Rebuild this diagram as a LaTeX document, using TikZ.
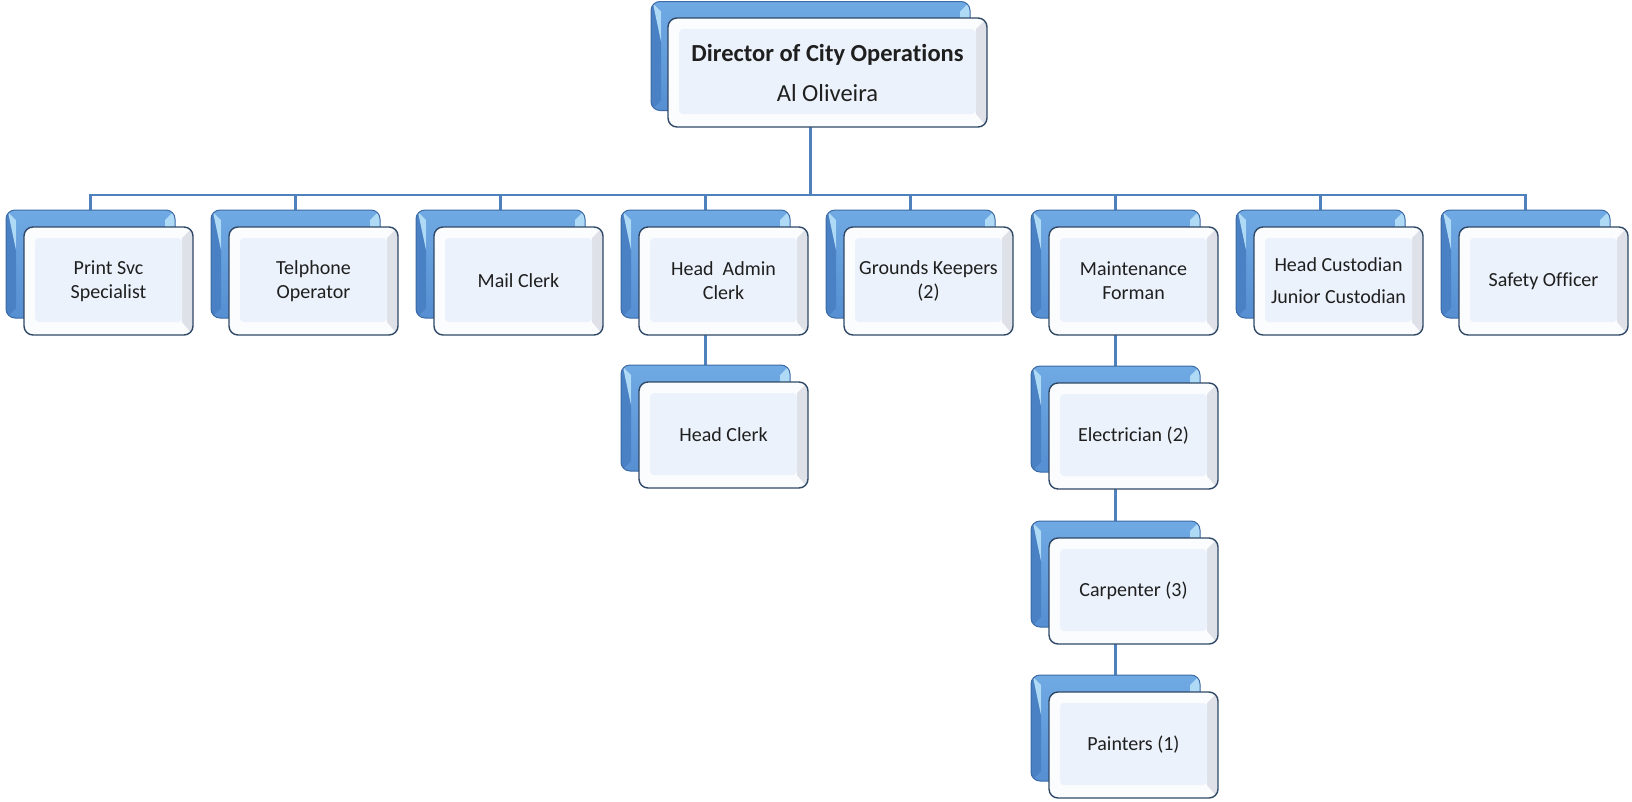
\documentclass[tikz,border=0pt]{standalone}
\usepackage{fontspec}
\setmainfont[Ligatures={NoCommon,NoRequired,NoContextual,NoDiscretionary}]{Carlito}
\usetikzlibrary{calc}

\definecolor{linkblue}{RGB}{79,129,189}
\definecolor{backtop}{RGB}{112,170,228}
\definecolor{backbot}{RGB}{86,143,210}
\definecolor{backedge}{RGB}{60,106,165}
\definecolor{backhi}{RGB}{175,218,246}
\definecolor{backlo}{RGB}{74,128,196}
\definecolor{frontedge}{RGB}{47,72,102}
\definecolor{frontface}{RGB}{235,242,251}
\definecolor{frontrim}{RGB}{251,252,254}
\definecolor{frontshade}{RGB}{222,226,232}

\pgfdeclarelayer{background}
\pgfsetlayers{background,main}

\tikzset{
  link/.style={draw=linkblue, line width=2.2pt},
  backbox/.style={draw=backedge, line width=1pt, rounded corners=9pt,
    top color=backtop, bottom color=backbot, inner sep=0pt, outer sep=0pt,
    path picture={
      \coordinate (pnw) at (path picture bounding box.north west);
      \coordinate (pse) at (path picture bounding box.south east);
      \coordinate (pne) at (path picture bounding box.north east);
      \coordinate (psw) at (path picture bounding box.south west);
      \fill[backhi, sharp corners] ($(pne)+(-10,10)$) -- (pne) -- (pse) -- ($(pse)+(-10,-10)$) -- cycle;
      \fill[backlo, sharp corners] ($(pnw)+(10,10)$) -- (pnw) -- (psw) -- ($(psw)+(10,-10)$) -- cycle;
      \fill[backhi, sharp corners] ($(pnw)+(10,10)$) -- ($(pnw)+(2,2)$) -- ($(pnw)+(10,40)$) -- cycle;
    }},
  frontbox/.style={draw=frontedge, line width=1.4pt, rounded corners=9pt,
    fill=frontrim, inner sep=0pt, outer sep=0pt, align=center,
    text=black!88,
    path picture={
      \coordinate (pnw) at (path picture bounding box.north west);
      \coordinate (pse) at (path picture bounding box.south east);
      \coordinate (pne) at (path picture bounding box.north east);
      \fill[frontshade, sharp corners] ($(pne)+(-11,11)$) -- (pne) -- (pse) -- ($(pse)+(-11,-13)$) -- cycle;
      \fill[frontface, rounded corners=4pt] ($(pnw)+(11,11)$) rectangle ($(pse)+(-11,-13)$);
    }},
  unitfont/.style={font=\fontsize{20}{24}\selectfont},
}

% one org-chart unit: a blue back plate and a light front card
% #1 name, #2 x, #3 y (front card centre), #4 width, #5 height, #6 label
\newcommand\orgunit[6]{%
  \node[backbox, minimum width=#4, minimum height=#5] (#1b) at ($(#2,#3)+(-18,-17)$) {};
  \node[frontbox, unitfont, minimum width=#4, minimum height=#5] (#1) at (#2,#3) {#6};
}

\begin{document}
\begin{tikzpicture}[x=1pt, y=-1pt]
\useasboundingbox (0,0) rectangle (1632,801);

% director
\node[backbox, minimum width=319, minimum height=109] (dirb) at (810.5,56) {};
\node[frontbox, minimum width=319, minimum height=109,
      font=\fontsize{24.5}{40}\selectfont] (dir) at (827.5,72.5)
      {\textbf{Director of City Opera\kern0pt tions}\\Al Oliveira};

% first level
\orgunit{print}{108.5}{281}{169}{108}{Print Svc\\Specialist}
\orgunit{phone}{313.5}{281}{169}{108}{Telphone\\Operator}
\orgunit{mail}{518.5}{281}{169}{108}{Mail Clerk}
\orgunit{admin}{723.5}{281}{169}{108}{Head\ \ Admin\\Clerk}
\orgunit{grounds}{928.5}{281}{169}{108}{Grounds Keepers\\(2)}
\orgunit{maint}{1133.5}{281}{169}{108}{Maintenance\\Forman}
\orgunit{cust}{1338.5}{281}{169}{108}{Head Custodian\\[8pt]Junior Custodian}
\orgunit{safety}{1543.5}{281}{169}{108}{Safety Of\kern0pt ficer}

% second and lower levels
\orgunit{clerk}{723.5}{435}{169}{106}{Head Clerk}
\orgunit{elec}{1133.5}{436}{169}{106}{Electrician (2)}
\orgunit{carp}{1133.5}{591}{169}{106}{Carpenter (3)}
\orgunit{paint}{1133.5}{745}{169}{106}{Painters (1)}

% connectors behind the cards
\begin{pgfonlayer}{background}
  \coordinate (bar) at (0,195);
  \draw[link] (dirb.center) -- (dirb.center |- bar);
  \foreach \u in {print,phone,mail,admin,grounds,maint,cust,safety}
    \draw[link] (dirb.center |- bar) -| (\u b.center);
  \draw[link] (adminb.center) -- (clerkb.center);
  \draw[link] (maintb.center) -- (elecb.center) -- (carpb.center) -- (paintb.center);
\end{pgfonlayer}
\end{tikzpicture}
\end{document}
